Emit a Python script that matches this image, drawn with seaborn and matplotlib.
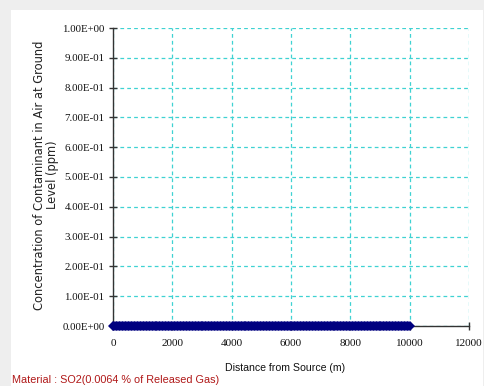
import matplotlib
matplotlib.use("Agg")
import matplotlib.pyplot as plt
import matplotlib.patches as mpatches
import seaborn as sns
import pandas as pd

# Ground-level concentration along the downwind axis
distance_m = list(range(0, 10001, 50))
concentration_ppm = [0.0] * len(distance_m)

x_ticks = [0, 2000, 4000, 6000, 8000, 10000, 12000]
y_ticks = [0.0, 0.1, 0.2, 0.3, 0.4, 0.5, 0.6, 0.7, 0.8, 0.9, 1.0]
y_tick_labels = ["0.00E+00", "1.00E-01", "2.00E-01", "3.00E-01", "4.00E-01",
                 "5.00E-01", "6.00E-01", "7.00E-01", "8.00E-01", "9.00E-01",
                 "1.00E+00"]

df = pd.DataFrame({"distance": distance_m, "conc": concentration_ppm})

sns.set_style("white")
W, H = 485, 386
fig = plt.figure(figsize=(W / 100, H / 100), dpi=100, facecolor="#eeeeee")
fig.patches.append(mpatches.Rectangle((11 / W, 0), (483 - 11) / W, (H - 10) / H,
                                      transform=fig.transFigure, facecolor="white",
                                      edgecolor="none", zorder=-10))

ax = fig.add_axes([113 / W, 1 - 326 / H, (469 - 113) / W, (326 - 28) / H])
ax.set_zorder(2)
ax.set_facecolor("white")

sns.lineplot(data=df, x="distance", y="conc", ax=ax, color="#000080",
             marker="D", markersize=4.6, markeredgewidth=0, linewidth=2.0,
             clip_on=False, zorder=5)

ax.set_xlim(0, 12000)
ax.set_ylim(0, 1.0)
ax.set_xticks(x_ticks)
ax.set_yticks(y_ticks)
ax.set_xticklabels([str(v) for v in x_ticks], fontfamily="Liberation Serif", fontsize=8)
ax.set_yticklabels(y_tick_labels, fontfamily="Liberation Serif", fontsize=7.8)

ax.grid(True, color="#3fd2d2", linestyle=(0, (3, 2.5)), linewidth=0.9)
for s in ["top", "right"]:
    ax.spines[s].set_visible(False)
for s in ["left", "bottom"]:
    ax.spines[s].set_color("#333333")
    ax.spines[s].set_linewidth(1.0)
ax.tick_params(axis="both", direction="inout", length=6, width=1.0, color="#333333",
               labelcolor="#111111", left=True, bottom=True)
ax.tick_params(axis="x", pad=6)
ax.tick_params(axis="y", pad=3)

ax.set_xlabel("")
ax.set_ylabel("")
fig.text(285 / W, 1 - 368 / H, "Distance from Source (m)", ha="center", va="center",
         fontsize=7.6, fontfamily="Liberation Sans", color="#111111")
fig.text(46 / W, 1 - 175 / H, "Concentration of Contaminant in Air at Ground\nLevel (ppm)",
         rotation=90, ha="center", va="center", fontsize=8.3,
         fontfamily="DejaVu Sans", color="#222222", linespacing=1.05)
fig.text(12 / W, 1 - 380 / H, "Material : SO2(0.0064 % of Released Gas)",
         ha="left", va="center", fontsize=7.8, fontfamily="Liberation Sans",
         color="#b01818")

fig.savefig("out.png", dpi=100, facecolor=fig.get_facecolor())
